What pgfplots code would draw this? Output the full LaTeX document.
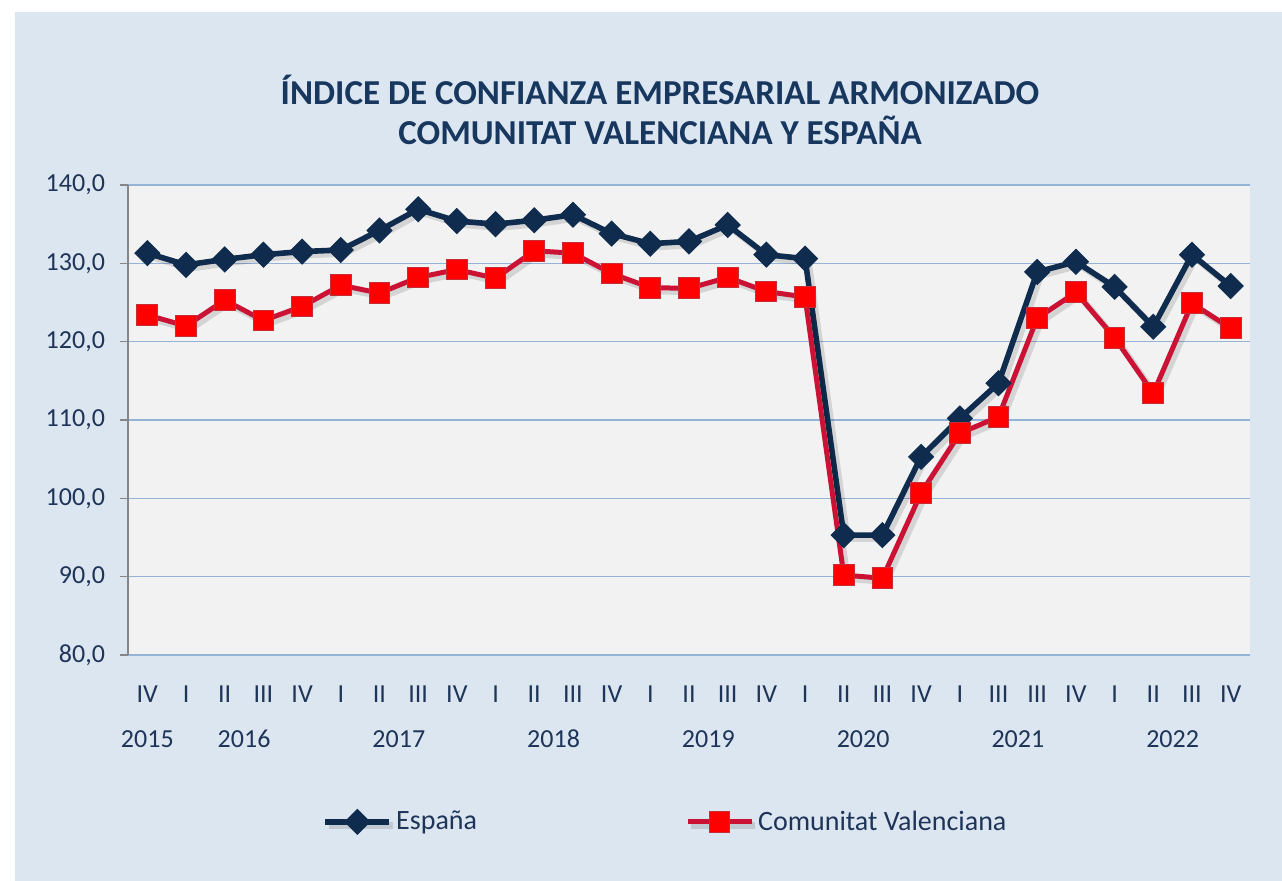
\documentclass[border=0pt]{standalone}
\usepackage{fontspec}
\setmainfont{Carlito}
\usepackage{pgfplots}
\pgfplotsset{compat=1.18}
\definecolor{bgblue}{RGB}{220,230,241}
\definecolor{plotgray}{RGB}{242,242,242}
\definecolor{gridblue}{RGB}{149,179,215}
\definecolor{titlecol}{RGB}{23,55,94}
\definecolor{labelcol}{RGB}{30,52,88}
\definecolor{tickgray}{RGB}{134,134,134}
\definecolor{espcol}{RGB}{15,44,78}
\definecolor{cvline}{RGB}{204,18,52}
\definecolor{cvfill}{RGB}{255,0,0}
\definecolor{cvedge}{RGB}{200,45,55}
\begin{document}
\begin{tikzpicture}[x=0.5pt,y=0.5pt]
\path[use as bounding box] (0,0) rectangle (1282,881);
\fill[white] (0,0) rectangle (1282,881);
\fill[bgblue] (15,0) rectangle (1282,869);
\node[font=\bfseries\fontsize{17.5}{20}\selectfont, text=titlecol, align=center] at (660,771)
  {ÍNDICE DE CONFIANZA EMPRESARIAL ARMONIZADO\\COMUNITAT VALENCIANA Y ESPAÑA};
\begin{axis}[
  at={(64pt,113pt)}, anchor=south west,
  width=561pt, height=235pt, scale only axis,
  xmin=-0.5, xmax=28.5, ymin=80, ymax=140,
  ytick={80,90,...,140},
  xtick={0,...,28},
  xticklabels={IV,I,II,III,IV,I,II,III,IV,I,II,III,IV,I,II,III,IV,I,II,III,IV,I,III,III,IV,I,II,III,IV},
  axis background/.style={fill=plotgray},
  ymajorgrids, grid style={gridblue, line width=0.8pt},
  axis y line*=left, axis x line*=bottom,
  x axis line style={draw=none},
  y axis line style={draw=tickgray, line width=0.6pt},
  ytick style={draw=tickgray, line width=0.6pt},
  xtick style={draw=none},
  tick align=outside, major tick length=4pt,
  /pgf/number format/assume math mode=true,
  y tick label style={/pgf/number format/fixed, /pgf/number format/fixed zerofill, /pgf/number format/precision=1, /pgf/number format/use comma},
  ticklabel style={font=\fontsize{13}{15}\selectfont, text=labelcol},
  xticklabel style={yshift=-8pt},
  yticklabel style={xshift=-4pt},
  clip=false,
  legend columns=2,
  legend style={at={(0.48,-0.355)}, anchor=center, draw=none, fill=none,
    font=\fontsize{14}{16}\selectfont, text=labelcol,
    /tikz/every even column/.append style={column sep=102pt}},
  legend image code/.code={\draw[mark repeat=2,mark phase=2,#1] plot coordinates {(0pt,0pt)(16pt,0pt)(32pt,0pt)};},
  shadowed/.style={preaction={draw=black, draw opacity=0.12, line width=3.2pt, transform canvas={shift={(1.8pt,-1.8pt)}}}},
]
\addplot[espcol, line width=2.8pt, shadowed, mark=square*, mark size=4.4pt,
  mark options={rotate=45, fill=espcol, draw=espcol, line width=0.5pt}] coordinates {
(0,131.3)(1,129.8)(2,130.5)(3,131.1)(4,131.5)(5,131.7)(6,134.2)(7,136.9)(8,135.4)(9,135.0)
(10,135.5)(11,136.2)(12,133.8)(13,132.5)(14,132.8)(15,134.9)(16,131.1)(17,130.6)(18,95.3)(19,95.3)
(20,105.3)(21,110.2)(22,114.7)(23,128.9)(24,130.2)(25,127.0)(26,121.9)(27,131.1)(28,127.1)};
\addlegendentry{España}
\addplot[cvline, line width=2.5pt, shadowed, mark=square*, mark size=5.2pt,
  mark options={fill=cvfill, draw=cvedge, line width=0.5pt}] coordinates {
(0,123.4)(1,122.0)(2,125.3)(3,122.7)(4,124.5)(5,127.2)(6,126.2)(7,128.2)(8,129.2)(9,128.1)
(10,131.6)(11,131.3)(12,128.7)(13,126.9)(14,126.8)(15,128.2)(16,126.4)(17,125.7)(18,90.2)(19,89.8)
(20,100.7)(21,108.3)(22,110.4)(23,123.0)(24,126.3)(25,120.5)(26,113.4)(27,124.9)(28,121.7)};
\addlegendentry{Comunitat Valenciana}
\tikzset{yearlab/.style={font=\fontsize{13}{15}\selectfont, text=labelcol, anchor=base, yshift=-46.5pt}}
\node[yearlab] at (axis cs:0,80) {2015};
\node[yearlab] at (axis cs:2.5,80) {2016};
\node[yearlab] at (axis cs:6.5,80) {2017};
\node[yearlab] at (axis cs:10.5,80) {2018};
\node[yearlab] at (axis cs:14.5,80) {2019};
\node[yearlab] at (axis cs:18.5,80) {2020};
\node[yearlab] at (axis cs:22.5,80) {2021};
\node[yearlab] at (axis cs:26.5,80) {2022};
\end{axis}
\end{tikzpicture}
\end{document}
